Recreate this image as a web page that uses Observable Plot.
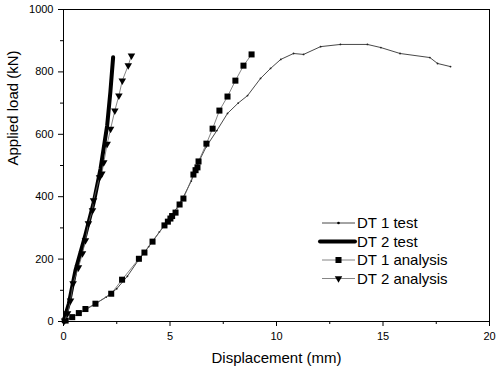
<!DOCTYPE html>
<html><head><meta charset="utf-8">
<script src="https://cdn.jsdelivr.net/npm/d3@7"></script>
<script src="https://cdn.jsdelivr.net/npm/@observablehq/plot@0.6"></script>
<style>
body{margin:0;background:#fff}
#c{position:relative;width:500px;height:372px;font-family:"Liberation Sans",Arial,sans-serif}
#leg{position:absolute;left:315px;top:212px}
</style>
</head><body><div id="c"></div>
<script>
// DT 1 test (thin line with small dots)
const dt1TestX = [0,0.3,0.7,1.0,1.5,2.0,2.5,3.0,3.5,4.0,4.5,5.0,5.5,6.0,6.3,6.7,7.2,7.7,8.2,8.64,9.25,9.72,10.2,10.8,11.27,12.07,13.0,14.27,14.9,15.8,17.2,17.56,18.17];
const dt1TestY = [0,10,24,36,57,78,105,145,195,240,287,332,382,450,505,560,612,667,700,724,779,811,840,859,856,881,888,888,878,859,846,827,817];
// DT 2 test (thick line)
const dt2TestX = [0,0.25,0.56,1.03,1.42,1.74,2.05,2.2,2.33];
const dt2TestY = [0,57,163,278,382,490,628,735,847];
// DT 1 analysis (squares)
const dt1AnaX = [0.1,0.41,0.72,1.03,1.5,2.24,2.75,3.54,3.8,4.18,4.74,4.9,5.02,5.1,5.26,5.45,5.63,6.1,6.2,6.29,6.34,6.71,7.0,7.32,7.7,8.07,8.45,8.83];
const dt1AnaY = [3,14,27,40,57,89,134,201,221,256,308,320,330,338,349,375,394,471,485,494,513,570,618,676,721,772,820,856];
// DT 2 analysis (down triangles)
const dt2AnaX = [0.05,0.19,0.33,0.45,0.7,0.89,1.03,1.17,1.36,1.41,1.69,1.8,1.89,2.05,2.21,2.41,2.6,2.76,3.04,3.19];
const dt2AnaY = [3,26,67,122,173,218,260,314,356,388,462,474,510,569,617,676,724,772,821,852];

const xTicks = [0,5,10,15,20];
const xMinor = [2.5,7.5,12.5,17.5];
const yTicks = [0,200,400,600,800,1000];
const yMinor = [100,300,500,700,900];

const xLabel = "Displacement (mm)";
const yLabel = "Applied load (kN)";
const legendLabels = ["DT 1 test","DT 2 test","DT 1 analysis","DT 2 analysis"];

const zip = (xs, ys) => xs.map((x,i)=>({x, y: ys[i]}));
const dt1Test = zip(dt1TestX, dt1TestY);
const dt2Test = zip(dt2TestX, dt2TestY);
const dt1Ana = zip(dt1AnaX, dt1AnaY);
const dt2Ana = zip(dt2AnaX, dt2AnaY);

const font = "Liberation Sans, Arial, sans-serif";
const chart = Plot.plot({
  width: 500, height: 372,
  marginLeft: 63, marginRight: 11, marginTop: 9, marginBottom: 51,
  style: {fontFamily: font, fontSize: "11px", color: "#000", background: "#fff", overflow: "visible"},
  x: {domain: [0, 20]},
  y: {domain: [0, 1000]},
  marks: [
    Plot.axisX({ticks: xTicks, tickSize: 5, tickPadding: 6, label: null, tickFormat: d => String(d), fontSize: 11}),
    Plot.axisX({ticks: xMinor, tickSize: 3, label: null, tickFormat: () => ""}),
    Plot.axisY({ticks: yTicks, tickSize: 5, tickPadding: 5, label: null, tickFormat: d => String(d), fontSize: 11}),
    Plot.axisY({ticks: yMinor, tickSize: 3, label: null, tickFormat: () => ""}),
    Plot.line(dt1Test, {x: "x", y: "y", stroke: "#333", strokeWidth: 0.9}),
    Plot.dot(dt1Test, {x: "x", y: "y", r: 0.9, fill: "#222", stroke: "none"}),
    Plot.line(dt1Ana, {x: "x", y: "y", stroke: "#666", strokeWidth: 0.8}),
    Plot.dot(dt1Ana, {x: "x", y: "y", symbol: "square", r: 3.4, fill: "#000", stroke: "none"}),
    Plot.line(dt2Test, {x: "x", y: "y", stroke: "#000", strokeWidth: 4, strokeLinecap: "round", strokeLinejoin: "round"}),
    Plot.line(dt2Ana, {x: "x", y: "y", stroke: "#666", strokeWidth: 0.8}),
    Plot.dot(dt2Ana, {x: "x", y: "y", symbol: "triangle", rotate: 180, r: 2.8, fill: "#000", stroke: "none"}),
    Plot.frame({stroke: "#000", strokeWidth: 1}),
    Plot.text([xLabel], {frameAnchor: "bottom", dy: 41, fontSize: 15, fill: "#000"}),
    Plot.text([yLabel], {frameAnchor: "left", dx: -50, rotate: -90, fontSize: 15, fill: "#000"})
  ]
});
const c = document.getElementById("c");
c.appendChild(chart);

// Legend overlay
const leg = d3.select(c).append("svg").attr("id","leg").attr("width",170).attr("height",80);
const rowY = [11, 29.5, 48, 66.5];
legendLabels.forEach((lab, i) => {
  const g = leg.append("g").attr("transform", `translate(0,${rowY[i]})`);
  if (i === 0) {
    g.append("line").attr("x1",7).attr("x2",40).attr("stroke","#333").attr("stroke-width",0.9);
    g.append("circle").attr("cx",23.5).attr("r",1.3).attr("fill","#000");
  } else if (i === 1) {
    g.append("line").attr("x1",5).attr("x2",40).attr("stroke","#000").attr("stroke-width",4).attr("stroke-linecap","round");
  } else if (i === 2) {
    g.append("line").attr("x1",7).attr("x2",40).attr("stroke","#666").attr("stroke-width",0.8);
    g.append("path").attr("d", d3.symbol(d3.symbolSquare, 3.4*3.4*Math.PI)()).attr("transform","translate(23.5,0)").attr("fill","#000");
  } else {
    g.append("line").attr("x1",7).attr("x2",40).attr("stroke","#666").attr("stroke-width",0.8);
    g.append("path").attr("d", d3.symbol(d3.symbolTriangle, 2.8*2.8*Math.PI)()).attr("transform","translate(23.5,0) rotate(180)").attr("fill","#000");
  }
  g.append("text").attr("x",42).attr("y",0).attr("dy","0.36em").attr("font-size",15).attr("font-family",font).attr("fill","#000").text(lab);
});
</script>
</body></html>
